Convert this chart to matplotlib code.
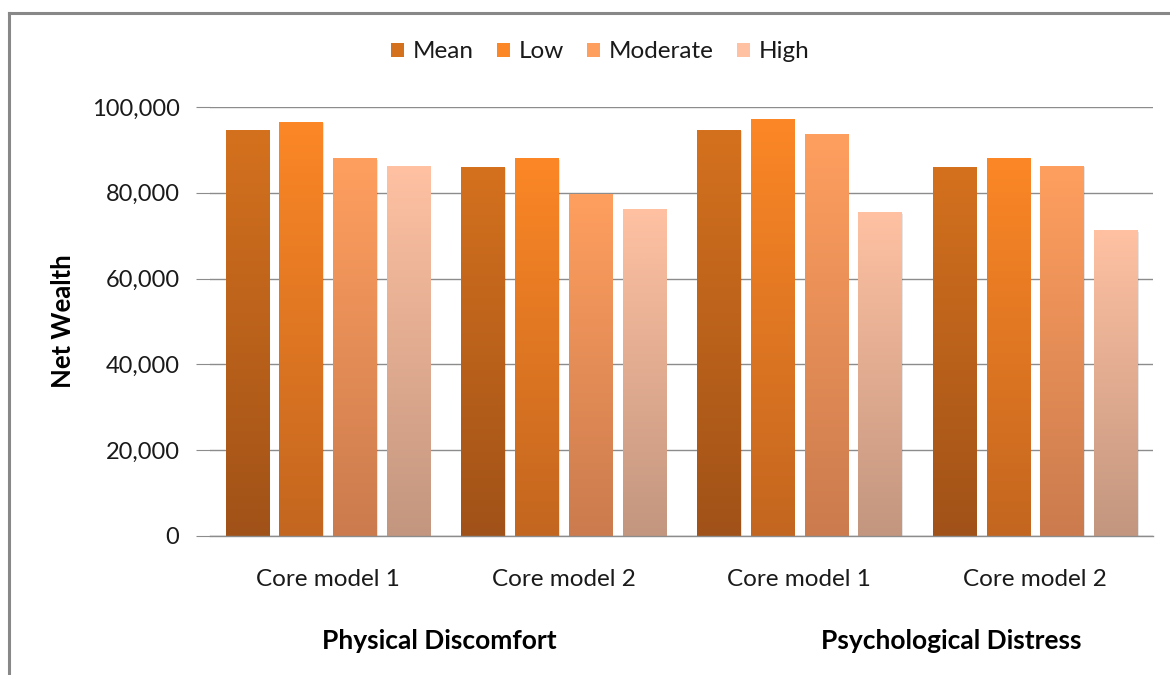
import matplotlib
matplotlib.use("Agg")
import matplotlib.pyplot as plt
import numpy as np
from matplotlib.colors import LinearSegmentedColormap
from matplotlib.lines import Line2D
from matplotlib.patches import Rectangle
from matplotlib.ticker import FuncFormatter

categories = ["Core model 1", "Core model 2", "Core model 1", "Core model 2"]
groups = ["Physical Discomfort", "Psychological Distress"]
series = ["Mean", "Low", "Moderate", "High"]
mean_vals = [94600, 86000, 94600, 86000]
low_vals = [96500, 87900, 97000, 87900]
moderate_vals = [87900, 79700, 93700, 86200]
high_vals = [86200, 76200, 75300, 71100]
values = [mean_vals, low_vals, moderate_vals, high_vals]

top_colors = ["#D4711E", "#FC8726", "#FF9F5F", "#FFC1A2"]
bottom_colors = ["#A15218", "#C3661F", "#CB7B4E", "#C3967F"]

plt.rcParams['font.family'] = ['Lato', 'DejaVu Sans']

W, H = 1170, 675
fig = plt.figure(figsize=(W / 100, H / 100), dpi=100)
ax = fig.add_axes([210 / W, 1 - 536 / H, (1153 - 210) / W, (536 - 107) / H])

x = np.arange(len(categories))
step = 0.228
width = 0.183
for i, (vals, tc, bc) in enumerate(zip(values, top_colors, bottom_colors)):
    cmap = LinearSegmentedColormap.from_list(f"g{i}", [bc, tc])
    grad = np.linspace(0, 1, 256).reshape(-1, 1)
    for xi, v in zip(x, vals):
        x0 = xi + (i - 1.5) * step - width / 2
        # soft shadow
        ax.add_patch(Rectangle((x0 + 0.006, 0), width, v - 300, facecolor="#000000",
                               alpha=0.10, edgecolor="none", zorder=2))
        ax.imshow(grad, extent=[x0, x0 + width, 0, v], origin="lower", aspect="auto",
                  cmap=cmap, zorder=3, interpolation="bilinear")

ax.set_xlim(-0.5, 3.5)
ax.set_ylim(0, 100000)
ax.set_yticks(np.arange(0, 100001, 20000))
ax.yaxis.set_major_formatter(FuncFormatter(lambda v, p: f"{int(v):,}"))
ax.grid(axis="y", color="#8c8c8c", linewidth=1.0, zorder=0)
ax.set_axisbelow(True)
for s in ["top", "right", "left"]:
    ax.spines[s].set_visible(False)
ax.spines["bottom"].set_color("#8c8c8c")
ax.spines["bottom"].set_linewidth(1.0)
ax.spines["bottom"].set_zorder(4)
ax.tick_params(axis="y", length=10, color="#8c8c8c", labelsize=17, pad=12, labelcolor="#1a1a1a")
ax.set_xticks(x)
ax.set_xticklabels(categories)
ax.tick_params(axis="x", length=0, labelsize=17.5, pad=24, labelcolor="#1a1a1a")

ax.set_ylabel("Net Wealth", fontsize=18.5, fontweight="bold", labelpad=12)

fig.text(439 / W, 1 - 641 / H, groups[0], ha="center", va="center", fontsize=19, fontweight="bold")
fig.text(951 / W, 1 - 641 / H, groups[1], ha="center", va="center", fontsize=19, fontweight="bold")

handles = [Rectangle((0, 0), 1, 1, facecolor=tc) for tc in top_colors]
leg = fig.legend(handles, series, loc="center", bbox_to_anchor=(600 / W, 1 - 52 / H), ncol=4,
                 frameon=False, fontsize=17.5, handlelength=0.55, handleheight=0.55,
                 handletextpad=0.35, columnspacing=0.95)
for t in leg.get_texts():
    t.set_color("#1a1a1a")

# outer frame (left and top edges)
fig.add_artist(Line2D([9 / W, 9 / W], [0, 1 - 13 / H], color="#888888", linewidth=2.2))
fig.add_artist(Line2D([9 / W, 1.0], [1 - 13 / H, 1 - 13 / H], color="#888888", linewidth=2.2))

fig.savefig("out.png", dpi=100)
